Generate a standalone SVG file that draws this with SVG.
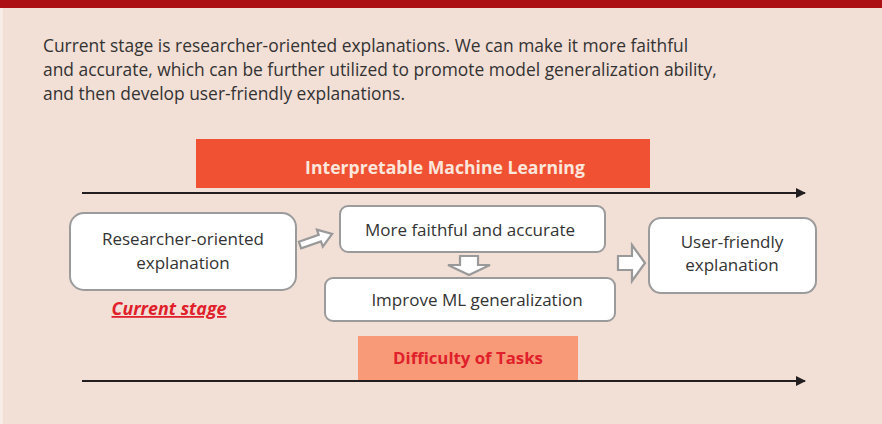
<svg xmlns="http://www.w3.org/2000/svg" width="882" height="424" viewBox="0 0 882 424">
<style>
text{font-family:"Open Sans","Liberation Sans",sans-serif;}
.body{font-size:17.4px;fill:#333333;}
.node rect{fill:#ffffff;stroke:#9b9b9b;stroke-width:2;}
.nt{font-size:17px;fill:#333333;text-anchor:middle;}
.harrow{fill:#ffffff;stroke:#999999;stroke-width:2.2;stroke-linejoin:miter;}
.axis{stroke:#231f20;stroke-width:2;fill:none;}
</style>
<defs>
<marker id="ah" markerWidth="10" markerHeight="10" refX="9" refY="5" orient="auto" markerUnits="userSpaceOnUse">
<path d="M0,0 L10,5 L0,10 Z" fill="#231f20"/>
</marker>
</defs>
<rect x="0" y="0" width="882" height="424" fill="#f8ece6"/>
<rect x="3" y="8" width="879" height="416" fill="#f2dfd6"/>
<rect x="0" y="0" width="882" height="8" fill="#ac0f14"/>
<text class="body" x="43" y="52">Current stage is researcher-oriented explanations. We can make it more faithful</text>
<text class="body" x="43" y="76">and accurate, which can be further utilized to promote model generalization ability,</text>
<text class="body" x="43" y="100">and then develop user-friendly explanations.</text>

<g id="iml-banner">
<rect x="196" y="139" width="454" height="49" fill="#f05133"/>
<text x="445" y="174" font-size="17.6px" font-weight="bold" fill="#fde6dc" text-anchor="middle">Interpretable Machine Learning</text>
</g>
<g id="difficulty-banner">
<rect x="358" y="336" width="220" height="45" fill="#f89a78"/>
<text x="468" y="364" font-size="16.8px" font-weight="bold" fill="#e0202a" text-anchor="middle">Difficulty of Tasks</text>
</g>

<g id="connectors">
<line class="axis" x1="82" y1="193" x2="805" y2="193" marker-end="url(#ah)"/>
<line class="axis" x1="82" y1="381" x2="805" y2="381" marker-end="url(#ah)"/>
<path class="harrow" transform="translate(300,245) rotate(-19)" d="M0,-3.5 L21,-3.5 L21,-9 L34,0 L21,9 L21,3.5 L0,3.5 Z"/>
<path class="harrow" d="M460,256 L478,256 L478,265 L490,265 L469,275 L448,265 L460,265 Z"/>
<path class="harrow" d="M618,256 L632,256 L632,245 L645,263 L632,281 L632,270 L618,270 Z"/>
</g>

<g id="researcher" class="node">
<rect x="70" y="213" width="226" height="77" rx="14"/>
<text class="nt" x="183" y="245">Researcher-oriented</text>
<text class="nt" x="183" y="269">explanation</text>
</g>
<g id="current-stage">
<text x="169" y="315" font-size="17.8px" font-weight="bold" font-style="italic" fill="#e0202a" text-anchor="middle" text-decoration="underline">Current stage</text>
</g>
<g id="faithful" class="node">
<rect x="340" y="206" width="265" height="46" rx="8"/>
<text class="nt" x="470" y="236">More faithful and accurate</text>
</g>
<g id="improve" class="node">
<rect x="325" y="278" width="290" height="43" rx="8"/>
<text class="nt" x="477" y="306">Improve ML generalization</text>
</g>
<g id="user-friendly" class="node">
<rect x="649" y="218" width="167" height="75" rx="12"/>
<text class="nt" x="732" y="248">User-friendly</text>
<text class="nt" x="732" y="271">explanation</text>
</g>
</svg>
